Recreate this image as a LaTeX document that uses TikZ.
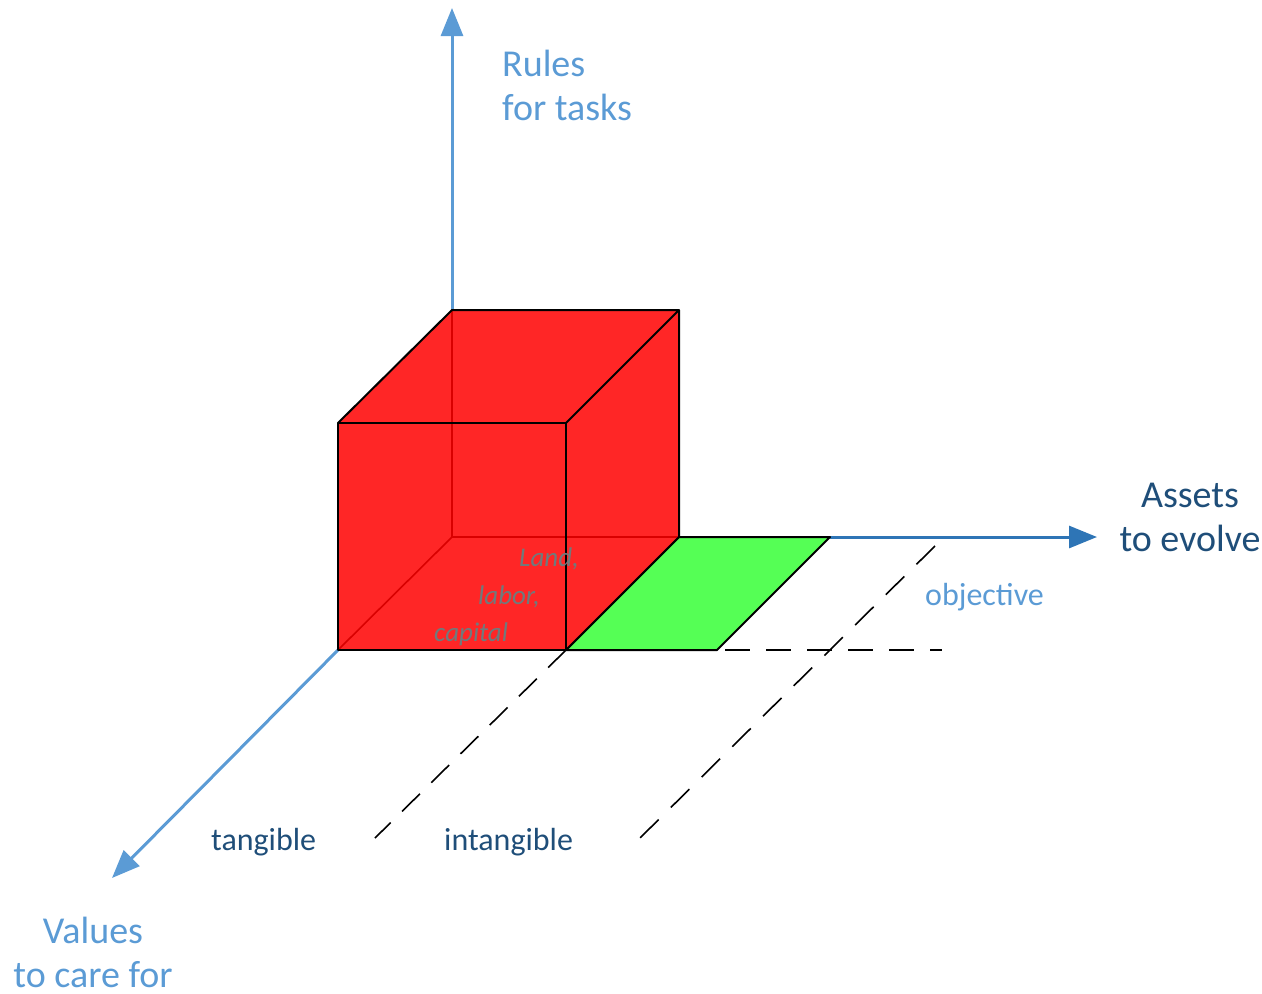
\documentclass[tikz,border=0pt]{standalone}
\usepackage{fontspec}
\setmainfont{Carlito}
\usetikzlibrary{arrows.meta}
\definecolor{lblue}{RGB}{91,155,213}
\definecolor{mblue}{RGB}{46,117,182}
\definecolor{dblue}{RGB}{31,78,121}
\definecolor{cubered}{RGB}{255,0,0}
\definecolor{sqgreen}{RGB}{85,255,85}
\definecolor{txtgray}{RGB}{112,122,124}
\tikzset{
  axis/.style={line width=3pt,-{Triangle[length=28pt,width=22pt]}},
  edge/.style={black,line width=2pt,line join=round},
  guide/.style={black,line width=1.6pt,dash pattern=on 25pt off 16pt},
  guidelong/.style={black,line width=1.6pt,dash pattern=on 26pt off 17.2pt},
  biglbl/.style={font=\fontsize{38}{44}\selectfont,inner sep=0pt},
  midlbl/.style={font=\fontsize{32}{38}\selectfont,inner sep=0pt},
  itlbl/.style={font=\itshape\fontsize{27}{30}\selectfont,inner sep=0pt,text=txtgray}
}
\begin{document}
\begin{tikzpicture}[x=1pt,y=-1pt]
\useasboundingbox (0,0) rectangle (1262,994);
% cube corners
\coordinate (A) at (338,650); % front bottom left
\coordinate (B) at (566,650); % front bottom right
\coordinate (C) at (566,423); % front top right
\coordinate (D) at (338,423); % front top left
\coordinate (E) at (452,537); % back bottom left
\coordinate (F) at (679,537); % back bottom right
\coordinate (G) at (679,310); % back top right
\coordinate (H) at (452,310); % back top left
% green square
\coordinate (P) at (830,537);
\coordinate (Q) at (717,650);
% axis ends
\coordinate (ytip) at (452,8);
\coordinate (xtip) at (1097,537);
\coordinate (ztip) at (112,878);
% guide ends
\coordinate (g1a) at (375,838);
\coordinate (g2a) at (935,546);
\coordinate (g2b) at (640,838);
\coordinate (g3b) at (942,650);

% axes
\draw[axis,lblue] (H) -- (ytip);
\draw[axis,mblue] (P) -- (xtip);
\draw[axis,lblue] (A) -- (ztip);

% dashed guides
\draw[guide] (B) -- (g1a);
\draw[guidelong] (g2a) -- (g2b);
\draw[guide] (Q) ++(8,0) -- (g3b);

% green plane
\draw[edge,fill=sqgreen] (B) -- (F) -- (P) -- (Q) -- cycle;

% hidden cube edges
\draw[black,line width=1.6pt] (E) -- (H) (E) -- (F) (E) -- (A);
% cube body
\fill[cubered,fill opacity=0.85] (A) -- (B) -- (F) -- (G) -- (H) -- (D) -- cycle;
% visible edges
\draw[edge] (A) -- (B) -- (C) -- (D) -- cycle;
\draw[edge] (D) -- (H) -- (G) -- (C);
\draw[edge] (G) -- (F) -- (B);

% labels (base anchor = last line's baseline)
\node[biglbl,text=lblue,anchor=base west,align=left] (rules) at (502,120) {Rules\\for tasks};
\node[biglbl,text=dblue,anchor=base,align=center] (assets) at (1190,551) {Assets\\to evolve};
\node[biglbl,text=lblue,anchor=base,align=center] (values) at (93,987) {Values\\to care for};
\node[midlbl,text=lblue,anchor=base west] (obj) at (925,605) {objective};
\node[midlbl,text=dblue,anchor=base west] (tang) at (211,850) {tangible};
\node[midlbl,text=dblue,anchor=base west] (intang) at (444,850) {intangible};
\node[itlbl,anchor=base west] (land) at (519,566) {Land,};
\node[itlbl,anchor=base west] (labor) at (478,604) {labor,};
\node[itlbl,anchor=base west] (capital) at (434,641) {capital};
\end{tikzpicture}
\end{document}
